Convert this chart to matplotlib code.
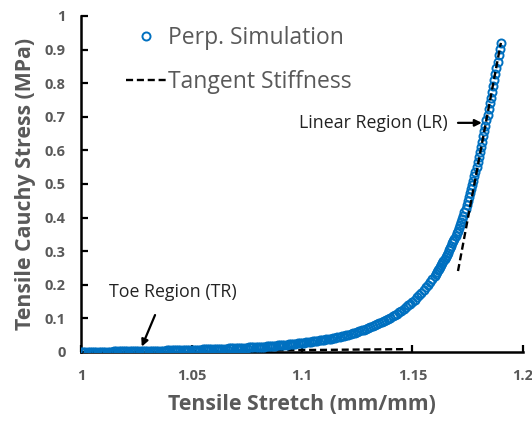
import matplotlib.pyplot as plt
from matplotlib.ticker import FuncFormatter, MultipleLocator

# tensile stretch samples (mm/mm)
stretch_toe = [
    1.000, 1.001, 1.002, 1.003, 1.004, 1.005, 1.006, 1.007, 1.008, 1.009,
    1.010, 1.011, 1.012, 1.013, 1.014, 1.015, 1.016, 1.017, 1.018, 1.019,
    1.020, 1.021, 1.022, 1.023, 1.024, 1.025, 1.026, 1.027, 1.028, 1.029,
    1.030, 1.031, 1.032, 1.033, 1.034, 1.035, 1.036, 1.037, 1.038, 1.039,
    1.040, 1.041, 1.042, 1.043, 1.044, 1.045, 1.046, 1.047, 1.048, 1.049,
    1.050, 1.051, 1.052, 1.053, 1.054, 1.055, 1.056, 1.057, 1.058, 1.059,
    1.060, 1.061, 1.062, 1.063, 1.064, 1.065, 1.066, 1.067, 1.068, 1.069,
    1.070, 1.071, 1.072, 1.073, 1.074, 1.075, 1.076, 1.077, 1.078, 1.079,
    1.080, 1.081, 1.082, 1.083, 1.084, 1.085, 1.086, 1.087, 1.088, 1.089,
    1.090, 1.091, 1.092, 1.093, 1.094, 1.095, 1.096, 1.097, 1.098, 1.099,
    1.100, 1.101, 1.102, 1.103, 1.104, 1.105, 1.106, 1.107, 1.108, 1.109,
    1.110, 1.111, 1.112, 1.113, 1.114, 1.115, 1.116, 1.117, 1.118, 1.119,
    1.120, 1.121, 1.122, 1.123, 1.124, 1.125, 1.126, 1.127, 1.128, 1.129,
    1.130, 1.131, 1.132, 1.133, 1.134, 1.135, 1.136, 1.137, 1.138, 1.139,
    1.140, 1.141, 1.142, 1.143, 1.144, 1.145, 1.146, 1.147, 1.148, 1.149,
    1.150, 1.151, 1.152, 1.153, 1.154, 1.155, 1.156, 1.157, 1.158, 1.159,
    1.160,
]
stress_toe = [
    0.0000, 0.0001, 0.0002, 0.0003, 0.0004, 0.0005, 0.0006, 0.0007, 0.0008, 0.0009,
    0.0010, 0.0011, 0.0012, 0.0013, 0.0014, 0.0015, 0.0016, 0.0017, 0.0018, 0.0019,
    0.0020, 0.0021, 0.0023, 0.0024, 0.0025, 0.0027, 0.0028, 0.0029, 0.0030, 0.0032,
    0.0033, 0.0034, 0.0036, 0.0037, 0.0038, 0.0040, 0.0041, 0.0042, 0.0043, 0.0045,
    0.0046, 0.0048, 0.0050, 0.0052, 0.0054, 0.0056, 0.0058, 0.0060, 0.0062, 0.0064,
    0.0066, 0.0068, 0.0070, 0.0072, 0.0074, 0.0076, 0.0078, 0.0080, 0.0082, 0.0084,
    0.0086, 0.0089, 0.0092, 0.0094, 0.0097, 0.0100, 0.0103, 0.0106, 0.0109, 0.0112,
    0.0115, 0.0118, 0.0121, 0.0124, 0.0128, 0.0131, 0.0135, 0.0138, 0.0142, 0.0146,
    0.0150, 0.0154, 0.0158, 0.0163, 0.0167, 0.0172, 0.0177, 0.0182, 0.0188, 0.0194,
    0.0200, 0.0206, 0.0212, 0.0219, 0.0225, 0.0232, 0.0239, 0.0246, 0.0254, 0.0262,
    0.0270, 0.0278, 0.0287, 0.0295, 0.0304, 0.0314, 0.0323, 0.0333, 0.0343, 0.0354,
    0.0365, 0.0376, 0.0389, 0.0401, 0.0414, 0.0428, 0.0441, 0.0456, 0.0471, 0.0486,
    0.0502, 0.0520, 0.0538, 0.0558, 0.0577, 0.0598, 0.0619, 0.0641, 0.0664, 0.0688,
    0.0712, 0.0738, 0.0765, 0.0793, 0.0822, 0.0853, 0.0884, 0.0916, 0.0950, 0.0985,
    0.1021, 0.1061, 0.1102, 0.1144, 0.1189, 0.1235, 0.1282, 0.1332, 0.1384, 0.1437,
    0.1493, 0.1557, 0.1624, 0.1694, 0.1766, 0.1842, 0.1921, 0.2003, 0.2089, 0.2179,
    0.2273,
]
stretch_lin = [
    1.1605, 1.1610, 1.1615, 1.1620, 1.1625, 1.1630, 1.1635, 1.1640, 1.1645, 1.1650,
    1.1655, 1.1660, 1.1665, 1.1670, 1.1675, 1.1680, 1.1685, 1.1690, 1.1695, 1.1700,
    1.1705, 1.1710, 1.1715, 1.1720, 1.1725, 1.1730, 1.1735, 1.1740, 1.1745, 1.1750,
    1.1755, 1.1760, 1.1765, 1.1770, 1.1775, 1.1780, 1.1785, 1.1790, 1.1795, 1.1800,
    1.1805, 1.1810, 1.1815, 1.1820, 1.1825, 1.1830, 1.1835, 1.1840, 1.1845, 1.1850,
    1.1855, 1.1860, 1.1865, 1.1870, 1.1875, 1.1880, 1.1885, 1.1890, 1.1895, 1.1900,
]
stress_lin = [
    0.2323, 0.2375, 0.2428, 0.2482, 0.2537, 0.2593, 0.2651, 0.2710, 0.2770, 0.2831,
    0.2894, 0.2958, 0.3024, 0.3091, 0.3160, 0.3230, 0.3302, 0.3375, 0.3450, 0.3527,
    0.3606, 0.3689, 0.3776, 0.3866, 0.3960, 0.4057, 0.4158, 0.4263, 0.4371, 0.4483,
    0.4599, 0.4718, 0.4841, 0.4967, 0.5097, 0.5231, 0.5368, 0.5509, 0.5654, 0.5802,
    0.5953, 0.6106, 0.6261, 0.6418, 0.6577, 0.6738, 0.6901, 0.7066, 0.7233, 0.7402,
    0.7573, 0.7746, 0.7921, 0.8098, 0.8277, 0.8458, 0.8641, 0.8826, 0.9013, 0.9202,
]

# tangent stiffness lines (end points)
tangent_toe_x = [1.000, 1.147]
tangent_toe_y = [0.000, 0.0085]
tangent_lin_x = [1.1706, 1.190]
tangent_lin_y = [0.241, 0.920]

GRIS = "#595959"
AZUL = "#0070C0"

plt.rcParams["font.family"] = ["Open Sans", "DejaVu Sans"]

fig = plt.figure(figsize=(5.32, 4.21), dpi=100)
ax = fig.add_axes([0.1523, 0.1639, 0.8307, 0.7981])

ax.plot(tangent_toe_x, tangent_toe_y, color="black", lw=1.7,
        linestyle=(0, (3, 1.6)), zorder=2)
ax.plot(stretch_toe + stretch_lin, stress_toe + stress_lin, linestyle="none",
        marker="o", markersize=5.8, markerfacecolor="none",
        markeredgecolor=AZUL, markeredgewidth=1.4, zorder=3,
        label="Perp. Simulation")
ax.plot(tangent_lin_x, tangent_lin_y, color="black", lw=1.7,
        linestyle=(0, (3, 1.6)), zorder=4, label="Tangent Stiffness")

ax.set_xlim(1, 1.2)
ax.set_ylim(0, 1)
ax.xaxis.set_major_locator(MultipleLocator(0.05))
ax.yaxis.set_major_locator(MultipleLocator(0.1))
fmt = FuncFormatter(lambda v, p: f"{v:g}")
ax.xaxis.set_major_formatter(fmt)
ax.yaxis.set_major_formatter(fmt)

for lado in ("top", "right"):
    ax.spines[lado].set_visible(False)
for lado in ("left", "bottom"):
    ax.spines[lado].set_linewidth(1.8)
    ax.spines[lado].set_color("black")
ax.tick_params(direction="in", length=5, width=1.6, colors="black",
               labelcolor=GRIS, labelsize=10.5)
ax.tick_params(axis="x", pad=12)
ax.tick_params(axis="y", pad=11)
for lab in ax.get_xticklabels() + ax.get_yticklabels():
    lab.set_fontweight("bold")

ax.set_xlabel("Tensile Stretch (mm/mm)", fontsize=15.3, fontweight="bold",
              color=GRIS, labelpad=8)
ax.set_ylabel("Tensile Cauchy Stress (MPa)", fontsize=15.3, fontweight="bold",
              color=GRIS, labelpad=6)

leg = ax.legend(loc="upper left", bbox_to_anchor=(0.055, 1.032), frameon=False,
                fontsize=16.5, labelcolor=GRIS, handlelength=1.75,
                handletextpad=0.1, labelspacing=0.9, markerscale=1.0)

ax.annotate("", xy=(1.0275, 0.016), xytext=(1.0335, 0.110),
            arrowprops=dict(arrowstyle="-|>", color="black", lw=1.6,
                            mutation_scale=10, shrinkA=0, shrinkB=0))
ax.text(1.0416, 0.180, "Toe Region (TR)", fontsize=12.8, color="#222222",
        ha="center", va="center")
ax.annotate("", xy=(1.1814, 0.682), xytext=(1.1706, 0.682),
            arrowprops=dict(arrowstyle="-|>", color="black", lw=1.6,
                            mutation_scale=10, shrinkA=0, shrinkB=0))
ax.text(1.1660, 0.682, "Linear Region (LR)", fontsize=12.8, color="#222222",
        ha="right", va="center")

fig.savefig("out.png", dpi=100)
